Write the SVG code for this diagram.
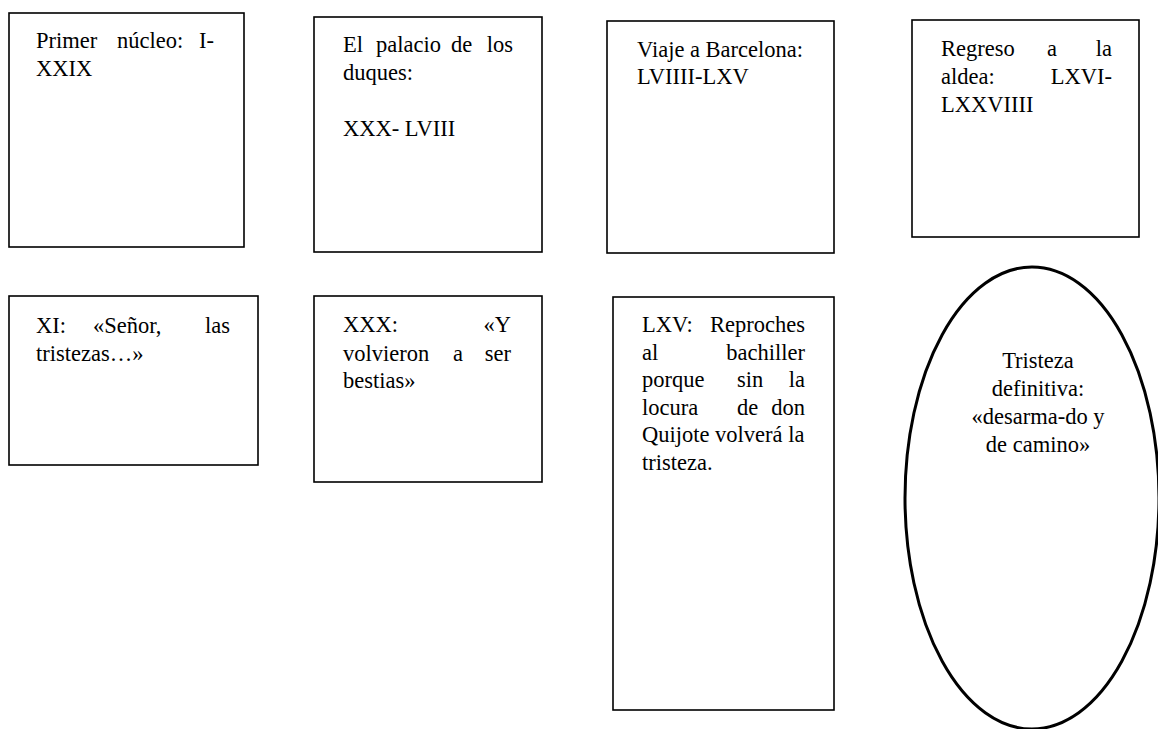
<svg xmlns="http://www.w3.org/2000/svg" width="1158" height="729" viewBox="0 0 1158 729">
<style>
.box{fill:#fff;stroke:#000;stroke-width:1.6}
.oval{fill:#fff;stroke:#000;stroke-width:3}
text{font-family:"Liberation Serif","Times New Roman",serif;font-size:22.5px;fill:#000}
.e{text-anchor:end}
.c{text-anchor:middle}
</style>
<rect width="1158" height="729" fill="#fff"/>
<g id="n1">
<rect class="box" x="9" y="13" width="235" height="234"/>
<text x="36" y="48">Primer</text><text x="117" y="48">núcleo:</text><text class="e" x="214" y="48">I-</text>
<text x="36" y="76">XXIX</text>
</g>
<g id="n2">
<rect class="box" x="314" y="17" width="228" height="235"/>
<text x="343" y="52">El</text><text x="376" y="52">palacio</text><text x="451" y="52">de</text><text class="e" x="513" y="52">los</text>
<text x="343" y="80">duques:</text>
<text x="343" y="136">XXX- LVIII</text>
</g>
<g id="n3">
<rect class="box" x="607" y="21" width="227" height="232"/>
<text x="637" y="56.5">Viaje a Barcelona:</text>
<text x="637" y="83.5">LVIIII-LXV</text>
</g>
<g id="n4">
<rect class="box" x="912" y="20" width="227" height="217"/>
<text x="941" y="56">Regreso</text><text x="1047" y="56">a</text><text class="e" x="1112" y="56">la</text>
<text x="941" y="84">aldea:</text><text class="e" x="1112" y="84">LXVI-</text>
<text x="941" y="111.5">LXXVIIII</text>
</g>
<g id="n5">
<rect class="box" x="9" y="296" width="249" height="169"/>
<text x="36" y="333">XI:</text><text x="93" y="333">«Señor,</text><text class="e" x="230" y="333">las</text>
<text x="36" y="361">tristezas…»</text>
</g>
<g id="n6">
<rect class="box" x="314" y="296" width="228" height="186"/>
<text x="343" y="332">XXX:</text><text class="e" x="511" y="332">«Y</text>
<text x="343" y="361">volvieron</text><text x="453" y="361">a</text><text class="e" x="511" y="361">ser</text>
<text x="343" y="388">bestias»</text>
</g>
<g id="n7">
<rect class="box" x="613" y="297" width="221" height="413"/>
<text x="642" y="332">LXV:</text><text class="e" x="805" y="332">Reproches</text>
<text x="642" y="359.5">al</text><text class="e" x="805" y="359.5">bachiller</text>
<text x="642" y="387">porque</text><text x="737" y="387">sin</text><text class="e" x="805" y="387">la</text>
<text x="642" y="414.5">locura</text><text x="737" y="414.5">de</text><text class="e" x="805" y="414.5">don</text>
<text x="642" y="442">Quijote volverá la</text>
<text x="642" y="469.5">tristeza.</text>
</g>
<g id="n8">
<ellipse class="oval" cx="1032" cy="498" rx="127" ry="231"/>
<text class="c" x="1038" y="368">Tristeza</text>
<text class="c" x="1038" y="396">definitiva:</text>
<text class="c" x="1038" y="424">«desarma-do y</text>
<text class="c" x="1038" y="452">de camino»</text>
</g>
<g id="connectors"></g>
</svg>
